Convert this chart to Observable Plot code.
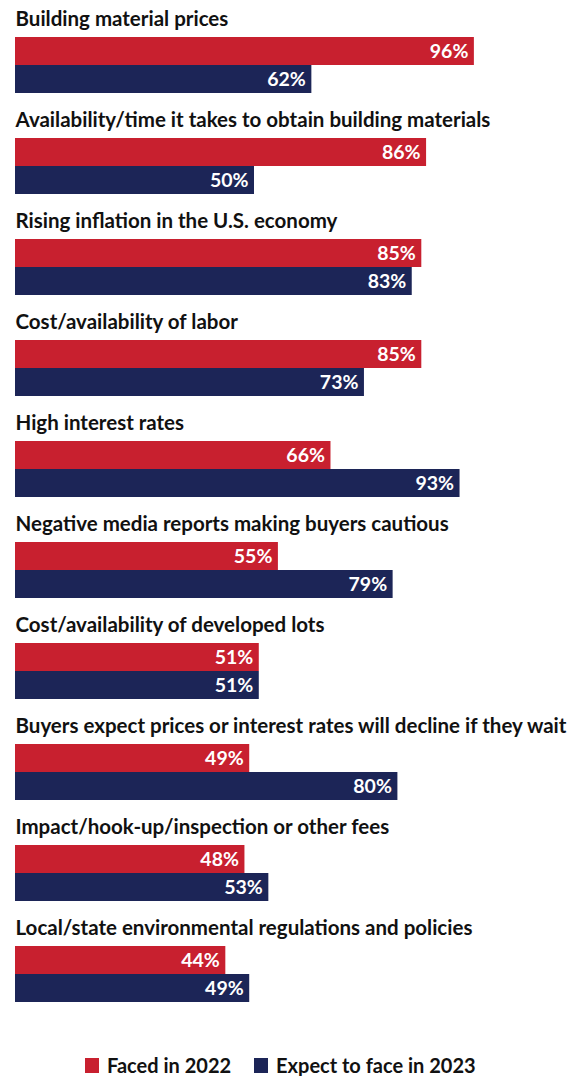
<!DOCTYPE html>
<html>
<head>
<meta charset="utf-8">
<script src="https://cdn.jsdelivr.net/npm/d3@7"></script>
<script src="https://cdn.jsdelivr.net/npm/@observablehq/plot@0.6"></script>
<style>
  html, body { margin: 0; padding: 0; background: #fff; }
  body { width: 580px; font-family: Lato, "Noto Sans", sans-serif; }
  #legend { display: flex; justify-content: flex-start; align-items: center; gap: 23px; margin-top: 42px; padding-left: 85px; font-size: 20px; font-weight: 700; color: #111; line-height: 22px; }
  #legend .item { display: flex; align-items: center; gap: 8px; }
  #legend .sw { width: 14px; height: 15px; display: inline-block; }
</style>
</head>
<body>
<div id="chart"></div>
<div id="legend"></div>
<script>
const categories = [
  "Building material prices",
  "Availability/time it takes to obtain building materials",
  "Rising inflation in the U.S. economy",
  "Cost/availability of labor",
  "High interest rates",
  "Negative media reports making buyers cautious",
  "Cost/availability of developed lots",
  "Buyers expect prices or interest rates will decline if they wait",
  "Impact/hook-up/inspection or other fees",
  "Local/state environmental regulations and policies"
];
const faced2022 = [96, 86, 85, 85, 66, 55, 51, 49, 48, 44];
const expect2023 = [62, 50, 83, 73, 93, 79, 51, 80, 53, 49];
const seriesNames = ["Faced in 2022", "Expect to face in 2023"];
const seriesColors = ["#C8202F", "#1C2557"];

const rows = [];
categories.forEach((c, i) => {
  rows.push({category: c, series: seriesNames[0], value: faced2022[i]});
  rows.push({category: c, series: seriesNames[1], value: expect2023[i]});
});

const chart = Plot.plot({
  width: 580,
  height: 1012,
  marginLeft: 15,
  marginRight: 87,
  marginTop: 0,
  marginBottom: 0,
  style: {fontFamily: "Lato, 'Noto Sans', sans-serif", background: "#fff"},
  x: {domain: [0, 100], axis: null},
  y: {domain: seriesNames, axis: null, padding: 0, insetTop: 36, insetBottom: 9},
  fy: {domain: categories, axis: null, padding: 0},
  color: {domain: seriesNames, range: seriesColors},
  marks: [
    Plot.barX(rows, {x: "value", y: "series", fy: "category", fill: "series"}),
    Plot.text(rows, {x: "value", y: "series", fy: "category", text: d => d.value + "%", textAnchor: "end", dx: -6, fill: "white", fontWeight: 700, fontSize: 19.5}),
    Plot.text(categories, {fy: d => d, text: d => d, frameAnchor: "top-left", textAnchor: "start", dy: 10, fontSize: 20.5, fontWeight: 700, fill: "#111"})
  ]
});
document.getElementById("chart").appendChild(chart);

const legend = document.getElementById("legend");
seriesNames.forEach((s, i) => {
  const item = document.createElement("div");
  item.className = "item";
  const sw = document.createElement("span");
  sw.className = "sw";
  sw.style.background = seriesColors[i];
  const t = document.createElement("span");
  t.textContent = s;
  item.appendChild(sw);
  item.appendChild(t);
  legend.appendChild(item);
});
</script>
</body>
</html>
